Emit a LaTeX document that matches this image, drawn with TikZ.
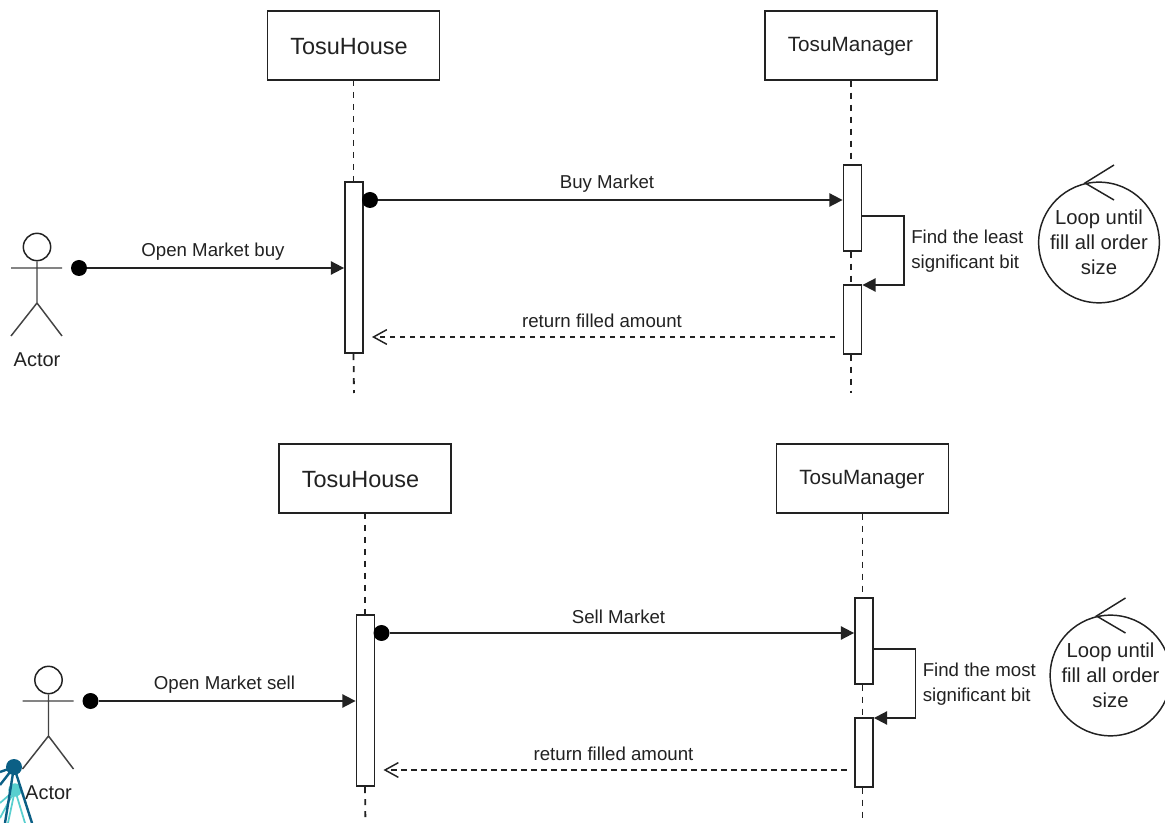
\documentclass[tikz,border=0pt]{standalone}
\usepackage{fontspec}
\setmainfont{Liberation Sans}
\usetikzlibrary{arrows.meta}
\definecolor{ink}{HTML}{222222}
\definecolor{tealdark}{HTML}{0B5F85}
\definecolor{teallight}{HTML}{58CFCF}
\tikzset{
 x=0.75pt,y=-0.75pt,
 every node/.style={text=ink,font=\fontsize{14}{17}\selectfont,inner sep=0pt},
 line/.style={draw=ink,line width=1.35pt},
 head/.style={line,fill=white,minimum width=129pt,minimum height=51.5pt},
 bar/.style={line,fill=white,minimum width=13.5pt},
 life/.style={draw=ink,line width=1.35pt,dash pattern=on 4.5pt off 4.5pt},
 msg/.style={line,-{Triangle[length=10pt,width=10pt]}},
 ret/.style={draw=ink,line width=1.1pt,dash pattern=on 4pt off 3.5pt,-{Straight Barb[length=10pt,width=11pt]}},
 dot/.style={circle,fill=black,minimum size=12pt},
 limb/.style={draw=ink!85,line width=1.1pt},
 ring/.style={circle,draw=ink,line width=1.1pt,minimum size=90.5pt,fill=white},
 lbl/.style={align=center}
}
\newcommand{\seqpanel}[8]{%
 \begin{scope}[shift={(#1,#2)},name prefix=#3]
  \node[head] (house) at (353.5,45.5) {};
  \node[head] (mgr) at (851,45.5) {};
  \node (housetext) at (349,47) {\fontsize{17.6}{20}\selectfont TosuHouse};
  \node (mgrtext) at (850.5,47) {\fontsize{15.5}{18}\selectfont TosuManager};
  \node[bar,minimum height=128.5pt] (ha) at (354,267.5) {};
  \node[bar,minimum height=64pt] (m1) at (852.5,208) {};
  \node[bar,minimum height=51.5pt] (m2) at (852.5,319.5) {};
  \coordinate (hend) at (354,393);
  \coordinate (mend) at (851,393);
  \draw[life] (house) ++(0,34.5) -- (ha.north -| house);
  \draw[life] (ha.south -| house) -- (hend);
  \draw[life] (mgr.south) -- (mgr.south |- m1.north);
  \draw[life] (mgr.south |- m1.south) -- (mgr.south |- m2.north);
  \draw[life] (mgr.south |- m2.south) -- (mend);
  % actor
  \node[circle,limb,draw=ink,minimum size=20.5pt] (ahead) at (37,247) {};
  \coordinate (aneck) at (37,268);
  \coordinate (ahip) at (37,303);
  \coordinate (al) at (11,268);
  \coordinate (ar) at (62,268);
  \coordinate (fl) at (11,336);
  \coordinate (fr) at (62,336);
  \draw[limb] (ahead) -- (ahip) (al) -- (ar) (fl) -- (ahip) -- (fr);
  \node[font=\fontsize{15}{18}\selectfont] (alab) at (37,360) {Actor};
  % messages
  \node[dot] (d1) at (79,268) {};
  \draw[msg] (d1) -- (d1 -| ha.west);
  \node (l1) at (#4,252) {#5};
  \node[dot] (d2) at (370,200) {};
  \draw[msg] (d2) -- (d2 -| m1.west);
  \node (l2) at (#8,184) {#6};
  \coordinate (s1) at (904,216);
  \coordinate (s2) at (904,285);
  \draw[msg] (s1 -| m1.east) -- (s1) -- (s2) -- (s2 -| m2.east);
  \node[lbl,align=left,anchor=west,font=\fontsize{14}{18.4}\selectfont] (l3) at (911,251) {#7\\significant bit};
  \coordinate (rs) at (835,337);
  \coordinate (re) at (372,337);
  \draw[ret] (rs) -- (re);
  \node (l4) at (602,321) {return filled amount};
  % loop
  \node[ring,lbl,font=\fontsize{15.2}{18.75}\selectfont] (loop) at (1099,242.5) {Loop until\\fill all order\\size};
  \coordinate (t1) at (1114,165);
  \coordinate (t2) at (1085,183);
  \coordinate (t3) at (1114,200);
  \draw[line,line width=1.1pt] (t1) -- (t2) -- (t3);
 \end{scope}}
\begin{document}
\begin{tikzpicture}
\useasboundingbox (0,0) rectangle (1165,823);
\clip (0,0) rectangle (1165,823);
\fill[white] (0,0) rectangle (1165,823);
\seqpanel{0}{0}{a}{213}{Open Market buy}{Buy Market}{Find the least}{607}
\seqpanel{11.5}{433}{b}{213}{Open Market sell}{Sell Market}{Find the most}{607}
% partly visible figure at the lower left corner
\coordinate (hub) at (14,767);
\coordinate (blob) at (15,790);
\draw[teallight,line width=1.3pt] (blob) -- (0,803) (blob) -- (0,818) (blob) -- (8,823) (blob) -- (25,823);
\fill[teallight] (blob) circle (5pt);
\draw[tealdark,line width=1.8pt] (hub) -- (5,823) (hub) -- (32,823) (hub) -- (0,772) (hub) -- (0,785);
\fill[tealdark] (hub) circle (6pt);
\end{tikzpicture}
\end{document}
